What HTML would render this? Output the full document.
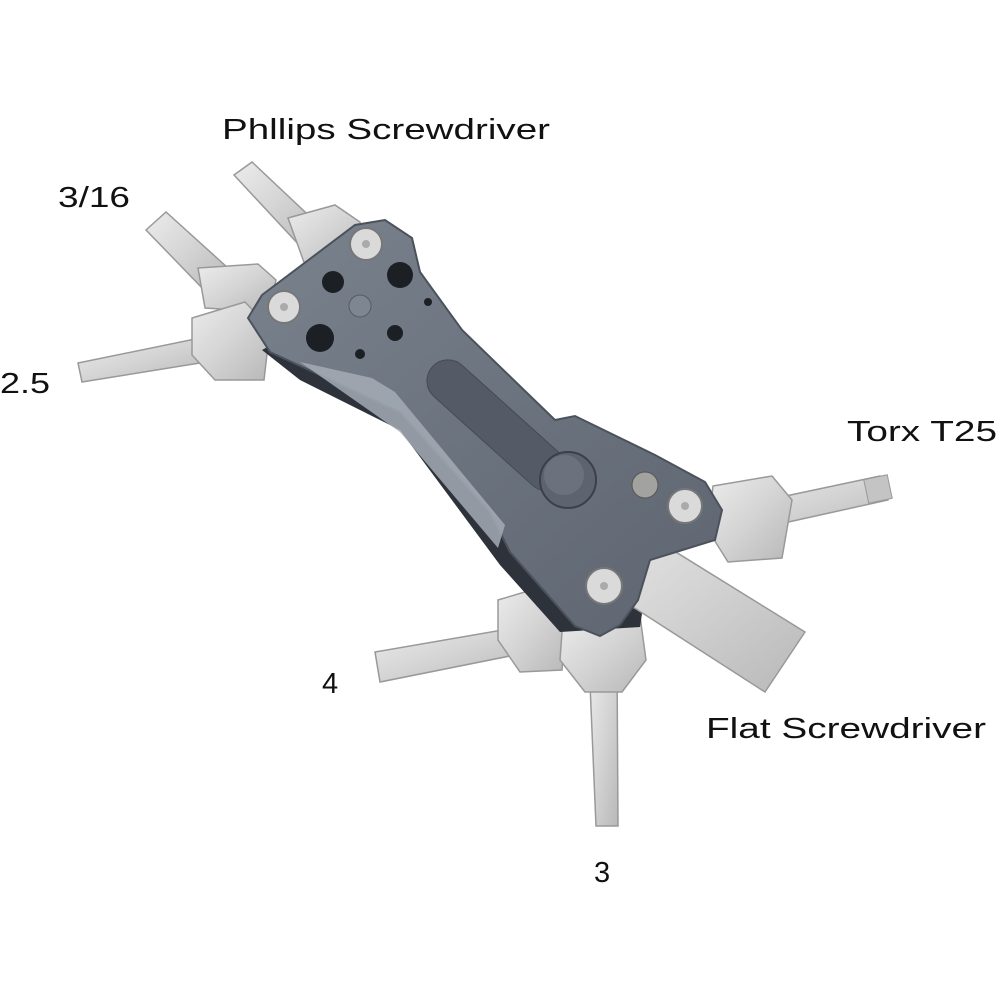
<!DOCTYPE html>
<html><head><meta charset="utf-8"><style>
html,body{margin:0;padding:0;background:#fff;width:1000px;height:1000px;overflow:hidden}
svg{display:block}
text{font-family:"Liberation Sans",sans-serif;font-size:29px;fill:#111}
</style></head><body>
<svg width="1000" height="1000" viewBox="0 0 1000 1000" xmlns="http://www.w3.org/2000/svg">
<defs>
<linearGradient id="steel" x1="0" y1="0" x2="1" y2="1">
<stop offset="0" stop-color="#ececec"/><stop offset="0.5" stop-color="#d4d4d4"/><stop offset="1" stop-color="#b8b8b8"/>
</linearGradient>
<linearGradient id="plate" x1="0" y1="0" x2="1" y2="1">
<stop offset="0" stop-color="#7a828e"/><stop offset="0.5" stop-color="#6b737f"/><stop offset="1" stop-color="#5e6570"/>
</linearGradient>
</defs>
<!-- hex keys -->
<g fill="url(#steel)" stroke="#999" stroke-width="1.5">
<polygon points="234,175 252,162 322,228 300,246"/>
<polygon points="288,218 335,205 360,222 362,258 305,265"/>
<polygon points="146,230 166,212 228,268 206,292"/>
<polygon points="198,268 258,264 276,280 268,312 205,308"/>
<polygon points="78,363 200,338 206,362 82,382"/>
<polygon points="192,318 245,302 270,328 264,380 215,380 192,355"/>
<polygon points="720,510 880,476 888,500 725,536"/>
<polygon points="713,486 772,476 792,500 782,558 728,562 708,530"/>
<polygon points="375,652 520,627 525,653 380,682"/>
<polygon points="498,600 545,586 567,605 562,670 520,672 498,640"/>
<polygon points="589,660 617,660 618,826 596,826"/>
<polygon points="563,618 640,616 646,660 622,692 585,692 560,660"/>
</g>
<rect x="866" y="477" width="24" height="24" fill="#c4c4c4" stroke="#999" transform="rotate(-12 878 489)"/>
<!-- dark underside -->
<polygon points="262,350 300,380 330,395 400,430 500,565 560,632 640,627 650,560 600,500 470,420 380,400 280,340" fill="#2d323b"/>
<!-- flat blade -->
<polygon points="600,505 805,632 765,692 560,560" fill="url(#steel)" stroke="#999" stroke-width="1.5"/>
<!-- plate -->
<polygon points="248,318 262,295 355,225 385,220 412,238 420,272 462,330 555,420 575,416 655,455 705,482 722,510 715,540 650,560 638,600 620,625 600,636 575,626 510,552 490,512 400,412 270,352" fill="url(#plate)" stroke="#4b525c" stroke-width="2"/>
<!-- bevel highlight -->
<polygon points="300,362 372,378 395,392 505,525 498,548 400,432" fill="#a4abb5" opacity="0.85"/>
<!-- slot -->
<rect x="410" y="404" width="175" height="42" rx="21" fill="#545b66" stroke="#454b54" transform="rotate(42 497 425)"/>
<!-- holes -->
<g fill="#1c1f24">
<circle cx="333" cy="282" r="11"/><circle cx="400" cy="275" r="13"/><circle cx="320" cy="338" r="14"/>
<circle cx="395" cy="333" r="8"/><circle cx="428" cy="302" r="4"/><circle cx="360" cy="354" r="5"/>
</g>
<circle cx="360" cy="306" r="11" fill="#7e8691" stroke="#555c66"/>
<!-- screws -->
<g fill="#dadada" stroke="#777" stroke-width="2">
<circle cx="366" cy="244" r="16"/><circle cx="284" cy="307" r="16"/><circle cx="685" cy="506" r="17"/><circle cx="604" cy="586" r="18"/>
</g>
<g fill="#aaa"><circle cx="366" cy="244" r="4"/><circle cx="284" cy="307" r="4"/><circle cx="685" cy="506" r="4"/><circle cx="604" cy="586" r="4"/></g>
<!-- button -->
<circle cx="568" cy="480" r="28" fill="#5d6470" stroke="#3b4048" stroke-width="2"/>
<circle cx="564" cy="475" r="20" fill="#6b727d"/>
<circle cx="645" cy="485" r="13" fill="#a2a29e" stroke="#555"/>
<!-- labels -->
<text x="222" y="139" textLength="328" lengthAdjust="spacingAndGlyphs">Phllips Screwdriver</text>
<text x="58" y="207" textLength="72" lengthAdjust="spacingAndGlyphs">3/16</text>
<text x="0" y="393" textLength="50" lengthAdjust="spacingAndGlyphs">2.5</text>
<text x="847" y="441" textLength="150" lengthAdjust="spacingAndGlyphs">Torx T25</text>
<text x="322" y="693">4</text>
<text x="706" y="738" textLength="280" lengthAdjust="spacingAndGlyphs">Flat Screwdriver</text>
<text x="594" y="882">3</text>
</svg>
</body></html>
